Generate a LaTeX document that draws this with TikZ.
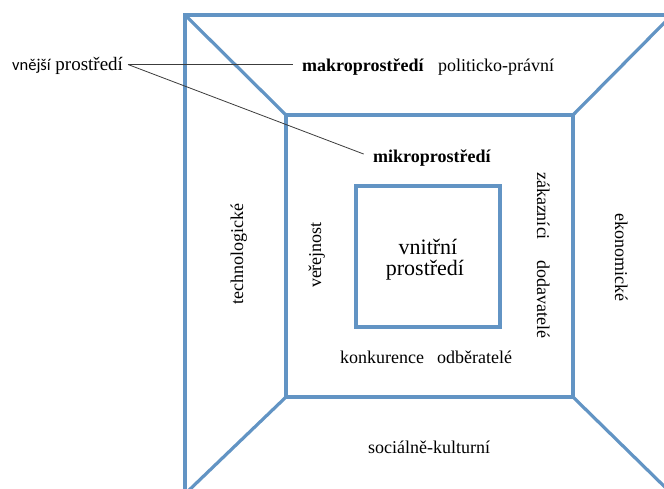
\documentclass[tikz,border=0pt]{standalone}
\usepackage{fontspec}
\setmainfont{Liberation Serif}
\newfontfamily\sansf{Carlito}
\definecolor{frameblue}{RGB}{98,148,196}
\definecolor{leadgray}{RGB}{60,60,60}
\tikzset{
  frame/.style={draw=frameblue, line width=3.2pt, outer sep=0pt, inner sep=0pt, fill=none},
  diag/.style={draw=frameblue, line width=3.2pt, line cap=round},
  lbl/.style={inner sep=0pt, font=\rmfamily\fontsize{18}{21.6}\selectfont, text=black},
  bigl/.style={inner sep=0pt, font=\rmfamily\fontsize{22}{24}\selectfont, text=black},
  leader/.style={draw=leadgray, line width=0.8pt}
}
\begin{document}
\begin{tikzpicture}[x=1pt,y=-1pt]
\useasboundingbox (0,0) rectangle (664,488);
\fill[white] (0,0) rectangle (664,488);
\begin{scope}
\clip (0,0) rectangle (664,488);
% boxes
\node[frame, minimum width=487pt, minimum height=479pt] (outer) at (428.5,254.5) {};
\node[frame, minimum width=287pt, minimum height=282pt] (mid) at (429.5,256) {};
\node[frame, minimum width=144pt, minimum height=141pt] (inner) at (428,256.5) {};
% diagonals
\draw[diag] (outer.north west) -- (mid.north west);
\draw[diag] (outer.north east) -- (mid.north east);
\draw[diag] (outer.south west) -- (mid.south west);
\draw[diag] (outer.south east) -- (mid.south east);
\end{scope}
% labels
\node[lbl, anchor=base west, font=\rmfamily\fontsize{19}{22}\selectfont] (vnejsi) at (12,70) {{\sansf\fontsize{16.5}{19}\selectfont vnější} prostředí};
\node[lbl, anchor=base west] (makro) at (302,71) {\textbf{makroprostředí}};
\node[lbl, anchor=base west] (polit) at (438,71) {politicko-právní};
\node[lbl, anchor=base west] (mikro) at (373,162) {\textbf{mikroprostředí}};
\node[bigl, anchor=base] (vnitrni) at (428,254) {vnitřní};
\node[bigl, anchor=base] (prostr) at (425,275) {prostředí};
\node[lbl, anchor=base, rotate=90] (techno) at (243,254) {technologické};
\node[lbl, anchor=base, rotate=90] (verej) at (321,255) {veřejnost};
\node[lbl, anchor=base, rotate=-90] (zakaz) at (537,206) {zákazníci};
\node[lbl, anchor=base, rotate=-90] (dodav) at (537,299) {dodavatelé};
\node[lbl, anchor=base, rotate=-90] (ekon) at (615,257) {ekonomické};
\node[lbl, anchor=base west] (konk) at (340,363) {konkurence};
\node[lbl, anchor=base west] (odber) at (437,363) {odběratelé};
\node[lbl, anchor=base] (soc) at (429,453) {sociálně-kulturní};
% leader lines
\coordinate (lead) at (128,64.5);
\draw[leader, shorten >=9pt] (lead) -- (lead -| makro.west);
\draw[leader, shorten >=10pt] (lead) -- (mikro.west);
\end{tikzpicture}
\end{document}
